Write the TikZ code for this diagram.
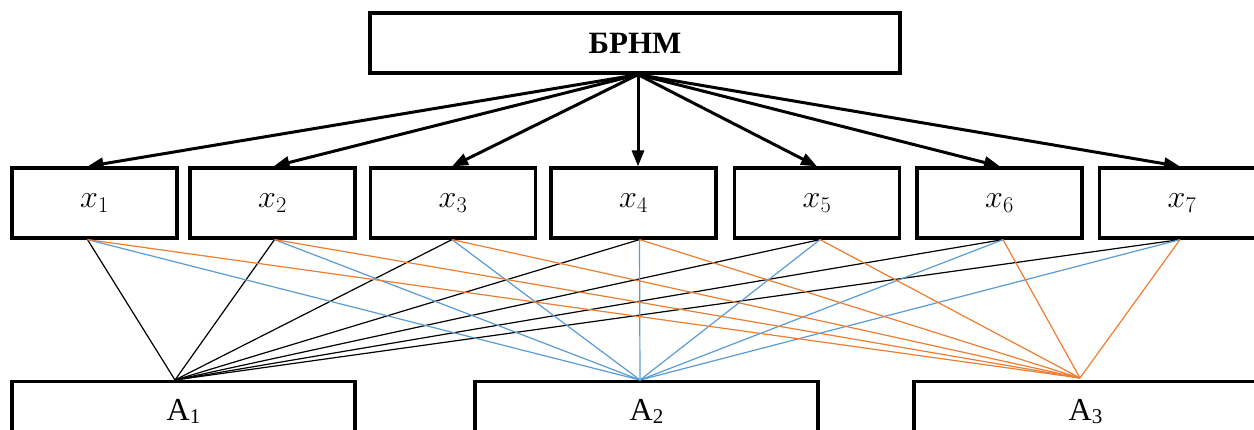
\RequirePackage{fix-cm}
\documentclass[tikz,border=0pt]{standalone}
\usepackage{fontspec}
\setmainfont{Liberation Serif}
\usetikzlibrary{arrows.meta,calc}
\definecolor{lblue}{RGB}{91,155,213}
\definecolor{lorange}{RGB}{237,125,49}
\begin{document}
\begin{tikzpicture}[x=1pt,y=-1pt,
  box/.style={draw=black, line width=3.2pt, fill=white, inner sep=0pt},
  xbox/.style={box, minimum width=165pt, minimum height=70pt, font=\fontsize{32}{38}\selectfont},
  abox/.style={box, anchor=north, minimum width=343pt, inner ysep=17pt, text height=22pt, text depth=30pt, font=\fontsize{32}{38}\selectfont},
  arr/.style={line width=3pt, -{Triangle[length=16pt,width=12pt]}},
  lk/.style={line width=1.2pt, black},
  lb/.style={line width=1.2pt, lblue},
  lo/.style={line width=1.2pt, lorange}]
\useasboundingbox (0,0) rectangle (1254,429);
\clip (0,0) rectangle (1254,429);
\node[box, minimum width=530pt, minimum height=60pt, font=\fontsize{31}{37}\selectfont\bfseries] (top) at (635,43) {БРНМ};
\node[xbox] (x1) at (94.5,203) {$x_1$};
\node[xbox] (x2) at (272.5,203) {$x_2$};
\node[xbox] (x3) at (453,203) {$x_3$};
\node[xbox] (x4) at (633.5,203) {$x_4$};
\node[xbox] (x5) at (817,203) {$x_5$};
\node[xbox] (x6) at (999.5,203) {$x_6$};
\node[xbox] (x7) at (1182,203) {$x_7$};
\node[abox] (A1) at (183.5,380) {A\raisebox{-3pt}{\fontsize{21}{25}\selectfont 1}};
\node[abox] (A2) at (646.5,380) {A\raisebox{-3pt}{\fontsize{21}{25}\selectfont 2}};
\node[abox] (A3) at (1085.5,380) {A\raisebox{-3pt}{\fontsize{21}{25}\selectfont 3}};
\coordinate (s) at ($(top.south)+(3,0)$);
\coordinate (t1) at ($(x1.north)+(-7,0)$);
\coordinate (b1) at ($(x1.south)+(-7,0)$);
\coordinate (t2) at ($(x2.north)+(1,0)$);
\coordinate (b2) at ($(x2.south)+(2,0)$);
\coordinate (t3) at ($(x3.north)+(-1,0)$);
\coordinate (b3) at ($(x3.south)+(-1,0)$);
\coordinate (t4) at ($(x4.north)+(4.5,0)$);
\coordinate (b4) at ($(x4.south)+(6,0)$);
\coordinate (t5) at ($(x5.north)+(0,0)$);
\coordinate (b5) at ($(x5.south)+(3,0)$);
\coordinate (t6) at ($(x6.north)+(0.5,0)$);
\coordinate (b6) at ($(x6.south)+(3.5,0)$);
\coordinate (t7) at ($(x7.north)+(-2,0)$);
\coordinate (b7) at ($(x7.south)+(-2,0)$);
\coordinate (a1) at ($(A1.north)+(-8.5,0)$);
\coordinate (a2) at ($(A2.north)+(-6.5,0)$);
\coordinate (a3) at ($(A3.north)+(-5.5,-2)$);
\foreach \i in {1,...,7} {
  \draw[lk] (b\i) -- (a1);
}
\foreach \i in {1,...,7} {
  \draw[lb] (b\i) -- (a2);
}
\foreach \i in {1,...,7} {
  \draw[lo] (b\i) -- (a3);
}
\foreach \i in {1,...,7} {
  \draw[arr] (s) -- (t\i);
}
\end{tikzpicture}
\end{document}
